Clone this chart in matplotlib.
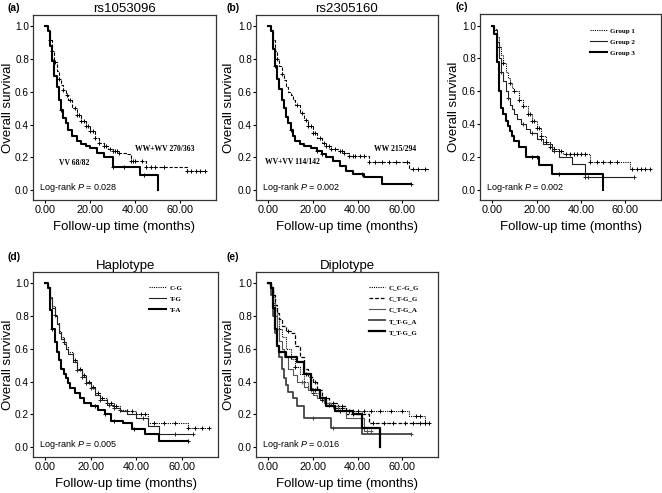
import numpy as np
import matplotlib
matplotlib.use('Agg')
import matplotlib.pyplot as plt

plt.rcParams['font.family'] = ['Liberation Sans', 'DejaVu Sans']
plt.rcParams['mathtext.fontset'] = 'custom'
plt.rcParams['mathtext.it'] = 'Liberation Sans:italic'
plt.rcParams['mathtext.rm'] = 'Liberation Sans'

# ---- data (time in months, survival) ----
# (a) rs1053096
a_ww_t = [0, 1, 2, 3, 4, 5, 6, 7, 8, 9, 10, 12, 14, 16, 18, 20, 22, 24, 26, 28, 30, 33, 36, 38, 42, 45, 52, 63, 71]
a_ww_s = [1.0, 0.98, 0.92, 0.85, 0.78, 0.73, 0.68, 0.64, 0.61, 0.58, 0.55, 0.50, 0.46, 0.42, 0.39, 0.36, 0.32, 0.29, 0.27, 0.25, 0.24, 0.23, 0.22, 0.18, 0.18, 0.14, 0.14, 0.12, 0.12]
a_ww_c = [2, 3, 4.5, 6, 8, 9.5, 11, 13, 14, 15, 16, 17, 18, 19, 20, 21, 22, 24, 26, 27, 29, 30, 31, 32, 33, 38, 39, 40, 43, 45, 47, 49, 53, 63, 65, 67, 69, 71]
a_vv_t = [0, 1, 2, 3, 4, 5, 6, 7, 8, 9, 10, 12, 14, 16, 18, 20, 23, 26, 30, 42, 50]
a_vv_s = [1.0, 0.97, 0.88, 0.79, 0.70, 0.63, 0.55, 0.49, 0.44, 0.41, 0.37, 0.33, 0.30, 0.28, 0.27, 0.26, 0.23, 0.20, 0.14, 0.09, 0.0]
a_vv_c = [3.5, 7, 30, 35, 44]

# (b) rs2305160
b_ww_t = [0, 1, 2, 3, 4, 5, 6, 7, 8, 9, 10, 11, 12, 14, 16, 18, 20, 22, 24, 26, 28, 31, 34, 36, 40, 45, 63, 72]
b_ww_s = [1.0, 0.98, 0.92, 0.85, 0.80, 0.76, 0.71, 0.67, 0.63, 0.60, 0.58, 0.55, 0.52, 0.47, 0.43, 0.39, 0.35, 0.32, 0.29, 0.27, 0.25, 0.24, 0.23, 0.21, 0.21, 0.17, 0.13, 0.13]
b_ww_c = [4, 6, 13, 15, 17, 18, 19, 20, 21, 23, 25, 26, 27, 28, 30, 32, 33, 34, 36, 38, 39, 41, 43, 45, 48, 51, 54, 57, 62, 65, 67, 70]
b_vv_t = [0, 1, 2, 3, 4, 5, 6, 7, 8, 9, 10, 11, 12, 14, 16, 19, 22, 24, 26, 29, 32, 35, 38, 43, 51, 64]
b_vv_s = [1.0, 0.97, 0.86, 0.76, 0.68, 0.62, 0.55, 0.50, 0.45, 0.41, 0.37, 0.33, 0.30, 0.28, 0.27, 0.26, 0.24, 0.22, 0.20, 0.18, 0.15, 0.12, 0.10, 0.08, 0.04, 0.04]
b_vv_c = [3, 10, 22, 24, 42, 64]

# (c) groups
c_g1_t = [0, 1, 2, 3, 4, 5, 6, 7, 8, 9, 10, 12, 14, 16, 18, 20, 22, 24, 26, 28, 30, 32, 44, 62, 71]
c_g1_s = [1.0, 0.98, 0.93, 0.87, 0.82, 0.77, 0.72, 0.68, 0.65, 0.62, 0.60, 0.55, 0.51, 0.46, 0.42, 0.38, 0.33, 0.29, 0.26, 0.25, 0.24, 0.22, 0.17, 0.13, 0.13]
c_g1_c = [3, 5, 8, 10, 12, 14, 16, 17, 18, 19, 20, 21, 22, 24, 26, 28, 30, 31, 33, 35, 37, 38, 40, 42, 44, 47, 50, 53, 56, 63, 65, 67, 69, 71]
c_g2_t = [0, 1, 2, 3, 4, 5, 6, 7, 8, 9, 10, 11, 13, 15, 17, 20, 23, 27, 30, 36, 42, 64]
c_g2_s = [1.0, 0.97, 0.90, 0.80, 0.72, 0.66, 0.60, 0.56, 0.52, 0.49, 0.46, 0.43, 0.40, 0.37, 0.35, 0.31, 0.28, 0.24, 0.20, 0.16, 0.08, 0.08]
c_g2_c = [4, 7, 14, 18, 22, 26, 28, 42, 43, 64]
c_g3_t = [0, 1, 2, 3, 4, 5, 6, 7, 8, 9, 10, 12, 15, 21, 27, 50]
c_g3_s = [1.0, 0.95, 0.78, 0.60, 0.50, 0.46, 0.42, 0.39, 0.36, 0.33, 0.30, 0.26, 0.20, 0.15, 0.10, 0.0]
c_g3_c = [18, 20, 30]

# (d) haplotype
d_cg_t = [0, 1, 2, 3, 4, 5, 6, 7, 8, 9, 10, 12, 14, 16, 18, 20, 22, 24, 27, 30, 33, 36, 40, 45, 63, 72]
d_cg_s = [1.0, 0.98, 0.92, 0.86, 0.81, 0.76, 0.71, 0.67, 0.64, 0.61, 0.58, 0.53, 0.48, 0.44, 0.40, 0.37, 0.33, 0.30, 0.27, 0.25, 0.23, 0.22, 0.20, 0.15, 0.12, 0.12]
d_cg_c = [4, 8, 13, 15, 17, 19, 21, 23, 25, 27, 29, 30, 31, 33, 36, 38, 40, 42, 44, 48, 52, 57, 63, 66, 69, 72]
d_tg_t = [0, 1, 2, 3, 4, 5, 6, 7, 8, 9, 10, 12, 14, 16, 18, 20, 22, 24, 27, 30, 33, 36, 40, 45, 50, 65]
d_tg_s = [1.0, 0.98, 0.91, 0.85, 0.80, 0.75, 0.70, 0.66, 0.63, 0.60, 0.57, 0.52, 0.47, 0.43, 0.39, 0.36, 0.32, 0.29, 0.26, 0.24, 0.22, 0.20, 0.18, 0.13, 0.08, 0.08]
d_tg_c = [14, 16, 18, 20, 24, 28, 30, 43, 57, 65]
d_ta_t = [0, 1, 2, 3, 4, 5, 6, 7, 8, 9, 10, 11, 13, 15, 17, 20, 23, 26, 29, 34, 38, 44, 50, 63]
d_ta_s = [1.0, 0.97, 0.84, 0.72, 0.64, 0.58, 0.53, 0.48, 0.45, 0.42, 0.39, 0.36, 0.33, 0.30, 0.27, 0.25, 0.23, 0.20, 0.16, 0.15, 0.11, 0.08, 0.04, 0.04]
d_ta_c = [3, 22, 26, 30, 39, 63]

# (e) diplotype
e_ccgg_t = [0, 1, 2, 3, 4, 5, 6, 8, 10, 12, 14, 16, 18, 20, 23, 26, 30, 35, 63, 70]
e_ccgg_s = [1.0, 0.98, 0.92, 0.85, 0.78, 0.72, 0.67, 0.60, 0.54, 0.49, 0.45, 0.40, 0.36, 0.33, 0.29, 0.26, 0.24, 0.22, 0.19, 0.15]
e_ccgg_c = [5, 12, 20, 24, 27, 30, 33, 36, 38, 40, 43, 46, 50, 55, 60, 66, 68, 70]
e_ctgg_t = [0, 1, 2, 3, 4, 5, 6, 8, 10, 12, 14, 16, 18, 20, 22, 24, 27, 31, 35, 45, 72]
e_ctgg_s = [1.0, 0.98, 0.93, 0.87, 0.82, 0.78, 0.74, 0.71, 0.70, 0.62, 0.55, 0.48, 0.43, 0.40, 0.35, 0.30, 0.27, 0.25, 0.20, 0.15, 0.15]
e_ctgg_c = [3, 9, 21, 26, 29, 33, 38, 42, 47, 52, 56, 61, 65, 68, 70, 72]
e_ctga_t = [0, 1, 2, 3, 4, 5, 6, 7, 9, 11, 13, 16, 18, 20, 22, 25, 28, 31, 35, 43, 46]
e_ctga_s = [1.0, 0.97, 0.88, 0.80, 0.72, 0.65, 0.60, 0.55, 0.48, 0.44, 0.40, 0.37, 0.35, 0.32, 0.30, 0.27, 0.25, 0.22, 0.18, 0.10, 0.10]
e_ctga_c = [4, 15, 19, 23, 26, 29, 44, 46]
e_ttga_t = [0, 1, 2, 3, 4, 5, 6, 7, 8, 9, 11, 13, 16, 28, 42, 64]
e_ttga_s = [1.0, 0.93, 0.80, 0.70, 0.62, 0.55, 0.48, 0.42, 0.38, 0.34, 0.30, 0.25, 0.18, 0.12, 0.08, 0.08]
e_ttga_c = [20, 29, 64]
e_ttgg_t = [0, 1, 2, 3, 4, 5, 8, 13, 16, 19, 23, 26, 30, 38, 42, 50]
e_ttgg_s = [1.0, 0.97, 0.85, 0.72, 0.62, 0.58, 0.55, 0.52, 0.45, 0.35, 0.30, 0.25, 0.22, 0.20, 0.12, 0.0]
e_ttgg_c = [10, 17, 21, 32]

# p-values and labels
p_vals = ['0.028', '0.002', '0.002', '0.005', '0.016']
titles = ['rs1053096', 'rs2305160', '', 'Haplotype', 'Diplotype']
tags = ['(a)', '(b)', '(c)', '(d)', '(e)']

DOT = dict(ls=(0, (1, 1)), lw=0.8, color='black')
DASH = dict(ls=(0, (3, 1.5)), lw=0.8, color='black')
THIN = dict(ls='-', lw=0.8, color='#222222')
THICK = dict(ls='-', lw=1.5, color='black')


def km(ax, t, s, cens, st, label=None):
    t = np.asarray(t, float)
    s = np.asarray(s, float)
    ax.plot(t, s, drawstyle='steps-post', label=label, **st)
    c = np.asarray(cens, float)
    idx = np.searchsorted(t, c, side='right') - 1
    ax.plot(c, s[idx], ls='none', marker='+', ms=3.5, mew=0.7, color=st['color'])


fig = plt.figure(figsize=(6.62, 4.93), dpi=100)
W, H = 662, 493
boxes = [(33, 15, 183, 185), (256, 15, 182, 185), (480, 14, 181, 186),
         (33, 272, 185, 185), (256, 272, 182, 185)]
ylab_x = [-0.104, -0.117, -0.113, -0.103, -0.117]
axes = []
for (x0, y0, w, h) in boxes:
    ax = fig.add_axes([x0 / W, 1 - (y0 + h) / H, w / W, h / H])
    axes.append(ax)

# curves
km(axes[0], a_ww_t, a_ww_s, a_ww_c, DASH)
km(axes[0], a_vv_t, a_vv_s, a_vv_c, THICK)
km(axes[1], b_ww_t, b_ww_s, b_ww_c, DASH)
km(axes[1], b_vv_t, b_vv_s, b_vv_c, THICK)
km(axes[2], c_g1_t, c_g1_s, c_g1_c, DOT, 'Group 1')
km(axes[2], c_g2_t, c_g2_s, c_g2_c, THIN, 'Group 2')
km(axes[2], c_g3_t, c_g3_s, c_g3_c, THICK, 'Group 3')
km(axes[3], d_cg_t, d_cg_s, d_cg_c, DOT, 'C-G')
km(axes[3], d_tg_t, d_tg_s, d_tg_c, THIN, 'T-G')
km(axes[3], d_ta_t, d_ta_s, d_ta_c, THICK, 'T-A')
km(axes[4], e_ccgg_t, e_ccgg_s, e_ccgg_c, DOT, 'C_C-G_G')
km(axes[4], e_ctgg_t, e_ctgg_s, e_ctgg_c, dict(ls=(0, (3, 1.5)), lw=0.9, color='black'), 'C_T-G_G')
km(axes[4], e_ctga_t, e_ctga_s, e_ctga_c, dict(ls='-', lw=0.8, color='#555555'), 'C_T-G_A')
km(axes[4], e_ttga_t, e_ttga_s, e_ttga_c, dict(ls='-', lw=1.3, color='#444444'), 'T_T-G_A')
km(axes[4], e_ttgg_t, e_ttgg_s, e_ttgg_c, dict(ls='-', lw=1.6, color='black'), 'T_T-G_G')

serif_b = dict(family='Liberation Serif', weight='bold', fontsize=5.5)
axes[0].text(40, 0.25, 'WW+WV 270/363', va='center', **serif_b)
axes[0].text(6, 0.165, 'VV 68/82', va='center', **serif_b)
axes[1].text(47.5, 0.25, 'WW 215/294', va='center', **serif_b)
axes[1].text(-1.5, 0.17, 'WV+VV 114/142', va='center', **serif_b)

leg_pos = {2: (0.59, 0.945), 3: (0.61, 0.95), 4: (0.6, 0.95)}
for i, ax in enumerate(axes):
    ax.set_xlim(-5.5, 76)
    ax.set_ylim(-0.06, 1.07)
    ax.set_xticks([0, 20, 40, 60])
    ax.set_xticklabels(['0.00', '20.00', '40.00', '60.00'])
    ax.set_yticks([0, 0.2, 0.4, 0.6, 0.8, 1.0])
    ax.set_yticklabels(['0.0', '0.2', '0.4', '0.6', '0.8', '1.0'])
    ax.tick_params(direction='out', length=2.2, width=0.8)
    ax.tick_params(axis='x', labelsize=7.8, pad=1.5)
    ax.tick_params(axis='y', labelsize=7.2, pad=0.6)
    for sp in ax.spines.values():
        sp.set_linewidth(0.9)
        sp.set_color('#333333')
    ax.set_xlabel('Follow-up time (months)', fontsize=9.5, labelpad=4)
    ax.set_ylabel('Overall survival', fontsize=9.5)
    ax.yaxis.set_label_coords(ylab_x[i], 0.5)
    if titles[i]:
        ax.set_title(titles[i], fontsize=9.5, pad=2)
    ax.text(0.035, 0.065, 'Log-rank $\\mathit{P}$ = ' + p_vals[i], transform=ax.transAxes,
            fontsize=6.5, va='center')
    if i in leg_pos:
        ax.legend(loc='upper left', bbox_to_anchor=leg_pos[i], frameon=False,
                  prop={'family': 'Liberation Serif', 'weight': 'bold', 'size': 5},
                  handlelength=2.4, handletextpad=0.5, labelspacing=0.75, borderpad=0)

tag_xy = [(7, 8), (227, 8), (455, 7), (7, 257), (227, 257)]
for tg, (x, y) in zip(tags, tag_xy):
    fig.text(x / W, 1 - y / H, tg, fontsize=7.5, fontweight='bold', va='center')

fig.savefig('out.png', dpi=100)
